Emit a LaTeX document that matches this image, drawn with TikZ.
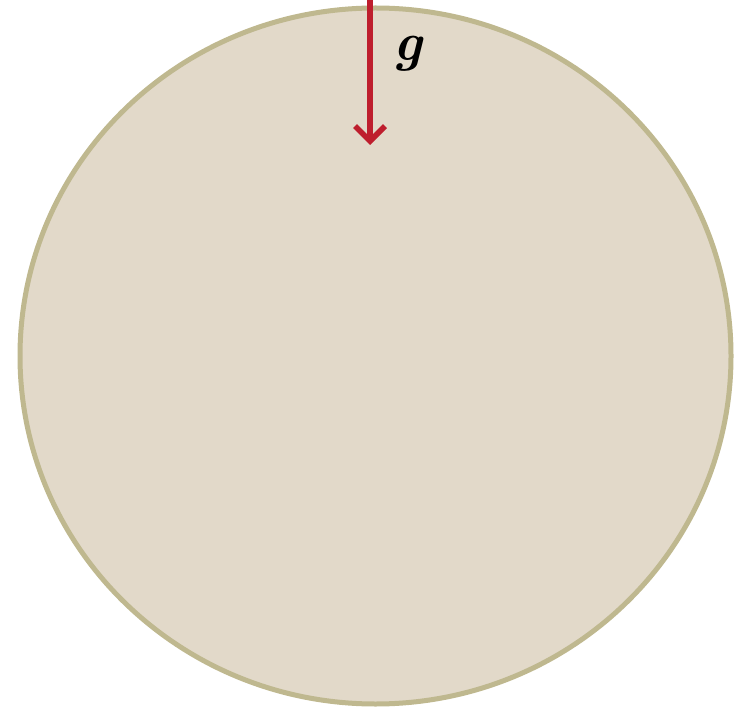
\documentclass[tikz,border=0pt]{standalone}
\usetikzlibrary{arrows.meta}
\definecolor{disk}{HTML}{E2D9C9}
\definecolor{rim}{HTML}{BFB88F}
\definecolor{gred}{HTML}{BE1E2D}
\begin{document}
\begin{tikzpicture}[x=1pt,y=-1pt,
  rimstyle/.style={draw=rim,line width=5pt,fill=disk},
  gvec/.style={draw=gred,line width=5.5pt,-{Straight Barb[length=15pt,width=30pt,line width=5.5pt]}},
  glabel/.style={inner sep=0pt,font=\fontsize{54}{54}\selectfont\bfseries\itshape}]
\useasboundingbox (0,0) rectangle (738,708);
\draw[rimstyle] (375.5,356) ellipse [x radius=355.5, y radius=348];
\coordinate (top) at (370,-3);
\coordinate (tip) at (370,145);
\draw[gvec] (top) -- (tip);
\node[glabel] (g) at (408,54) {g};
\end{tikzpicture}
\end{document}
